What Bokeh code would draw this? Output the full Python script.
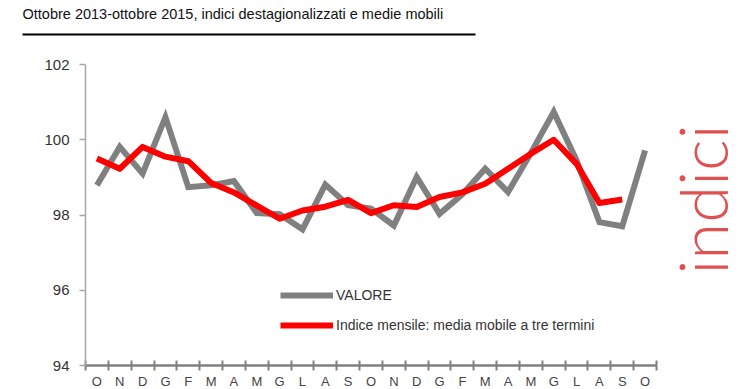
import math
from bokeh.plotting import figure
from bokeh.models import Range1d, FixedTicker, Label, BoxAnnotation, Legend, LegendItem
from bokeh.embed import file_html
from bokeh.resources import INLINE

# ---------------- data ----------------
months = ["O", "N", "D", "G", "F", "M", "A", "M", "G", "L", "A", "S",
          "O", "N", "D", "G", "F", "M", "A", "M", "G", "L", "A", "S", "O"]
valore = [98.79, 99.81, 99.10, 100.60, 98.74, 98.79, 98.90, 98.05, 98.02, 97.62,
          98.81, 98.26, 98.17, 97.72, 99.01, 98.03, 98.55, 99.23, 98.61, 99.65,
          100.74, 99.45, 97.81, 97.70, 99.72]
media_mobile = [99.50, 99.23, 99.81, 99.55, 99.43, 98.85, 98.60, 98.25, 97.90, 98.12,
                98.22, 98.40, 98.05, 98.26, 98.21, 98.48, 98.60, 98.83, 99.23, 99.63,
                100.00, 99.36, 98.32, 98.41, float("nan")]
y_ticks = [94, 96, 98, 100, 102]
title_text = "Ottobre 2013-ottobre 2015, indici destagionalizzati e medie mobili"
series_names = ["VALORE", "Indice mensile: media mobile a tre termini"]
side_text = "indici"

# ---------------- layout (pixels) ----------------
W, H = 740, 389
FL, FT = 85, 64          # axis box left / top
FW, FH = 571, 301        # axis box width / height
x0, x1 = -0.5, len(months) - 0.5
y0, y1 = y_ticks[0], y_ticks[-1]

def dx(px):
    return x0 + (px - FL) * (x1 - x0) / FW

def dy(py):
    return y0 + (FT + FH - py) * (y1 - y0) / FH

xs = list(range(len(months)))

p = figure(width=W, height=H, output_backend="svg", toolbar_location=None,
           x_range=Range1d(dx(0), dx(W)), y_range=Range1d(dy(H), dy(0)),
           min_border=0, min_border_left=0, min_border_right=0,
           min_border_top=0, min_border_bottom=0)
p.background_fill_color = "white"
p.border_fill_color = "white"
p.outline_line_color = None
p.xgrid.visible = False
p.ygrid.visible = False

r1 = p.line(xs, valore, line_color="#808080", line_width=6, line_join="miter")
r2 = p.line(xs, media_mobile, line_color="#ff0000", line_width=6, line_join="round")

# y axis
ya = p.yaxis[0]
ya.fixed_location = x0
ya.bounds = (y0, y1)
ya.ticker = FixedTicker(ticks=y_ticks)
ya.axis_line_color = "#a6a6a6"
ya.axis_line_width = 1.5
ya.major_tick_line_color = "#a6a6a6"
ya.major_tick_line_width = 1.5
ya.major_tick_out = 6
ya.major_tick_in = 0
ya.minor_tick_out = 0
ya.minor_tick_in = 0
ya.major_label_standoff = 10
ya.major_label_text_font = "Liberation Sans"
ya.major_label_text_font_size = "15px"
ya.major_label_text_color = "#333333"

# x axis
xa = p.xaxis[0]
xa.fixed_location = y0
xa.bounds = (x0, x1)
xa.ticker = FixedTicker(ticks=xs, minor_ticks=[i - 0.5 for i in range(len(months) + 1)])
xa.major_label_overrides = {i: m for i, m in enumerate(months)}
xa.axis_line_color = "#808080"
xa.axis_line_width = 2.5
xa.major_tick_out = 0
xa.major_tick_in = 0
xa.minor_tick_out = 5
xa.minor_tick_in = 5
xa.minor_tick_line_color = "#808080"
xa.minor_tick_line_width = 2
xa.major_label_standoff = 3
xa.major_label_text_font = "Liberation Sans"
xa.major_label_text_font_size = "13px"
xa.major_label_text_color = "#444444"

# legend
legend = Legend(items=[LegendItem(label=series_names[0], renderers=[r1]),
                       LegendItem(label=series_names[1], renderers=[r2])],
                location=(280, 54), glyph_width=53, glyph_height=20, label_height=20,
                spacing=10, padding=0, margin=0, label_standoff=3,
                border_line_color=None, background_fill_alpha=0,
                label_text_font="Liberation Sans", label_text_font_size="14px",
                label_text_color="#333333")
p.add_layout(legend)

# title, rule and side label
p.add_layout(Label(x=dx(22), y=dy(13.5), text=title_text, text_align="left",
                   text_baseline="alphabetic", text_font="Liberation Sans",
                   text_font_size="14.5px", text_color="#111111"))
p.add_layout(BoxAnnotation(left=dx(22), right=dx(475), top=dy(33), bottom=dy(35),
                           fill_color="black", fill_alpha=1, line_color=None))
p.add_layout(Label(x=dx(701), y=dy(199), angle=math.pi / 2, text=side_text,
                   text_align="center", text_baseline="middle",
                   text_font="Lato Light", text_font_size="67px", text_color="#e05050"))

open("out.html", "w").write(file_html(p, INLINE))
